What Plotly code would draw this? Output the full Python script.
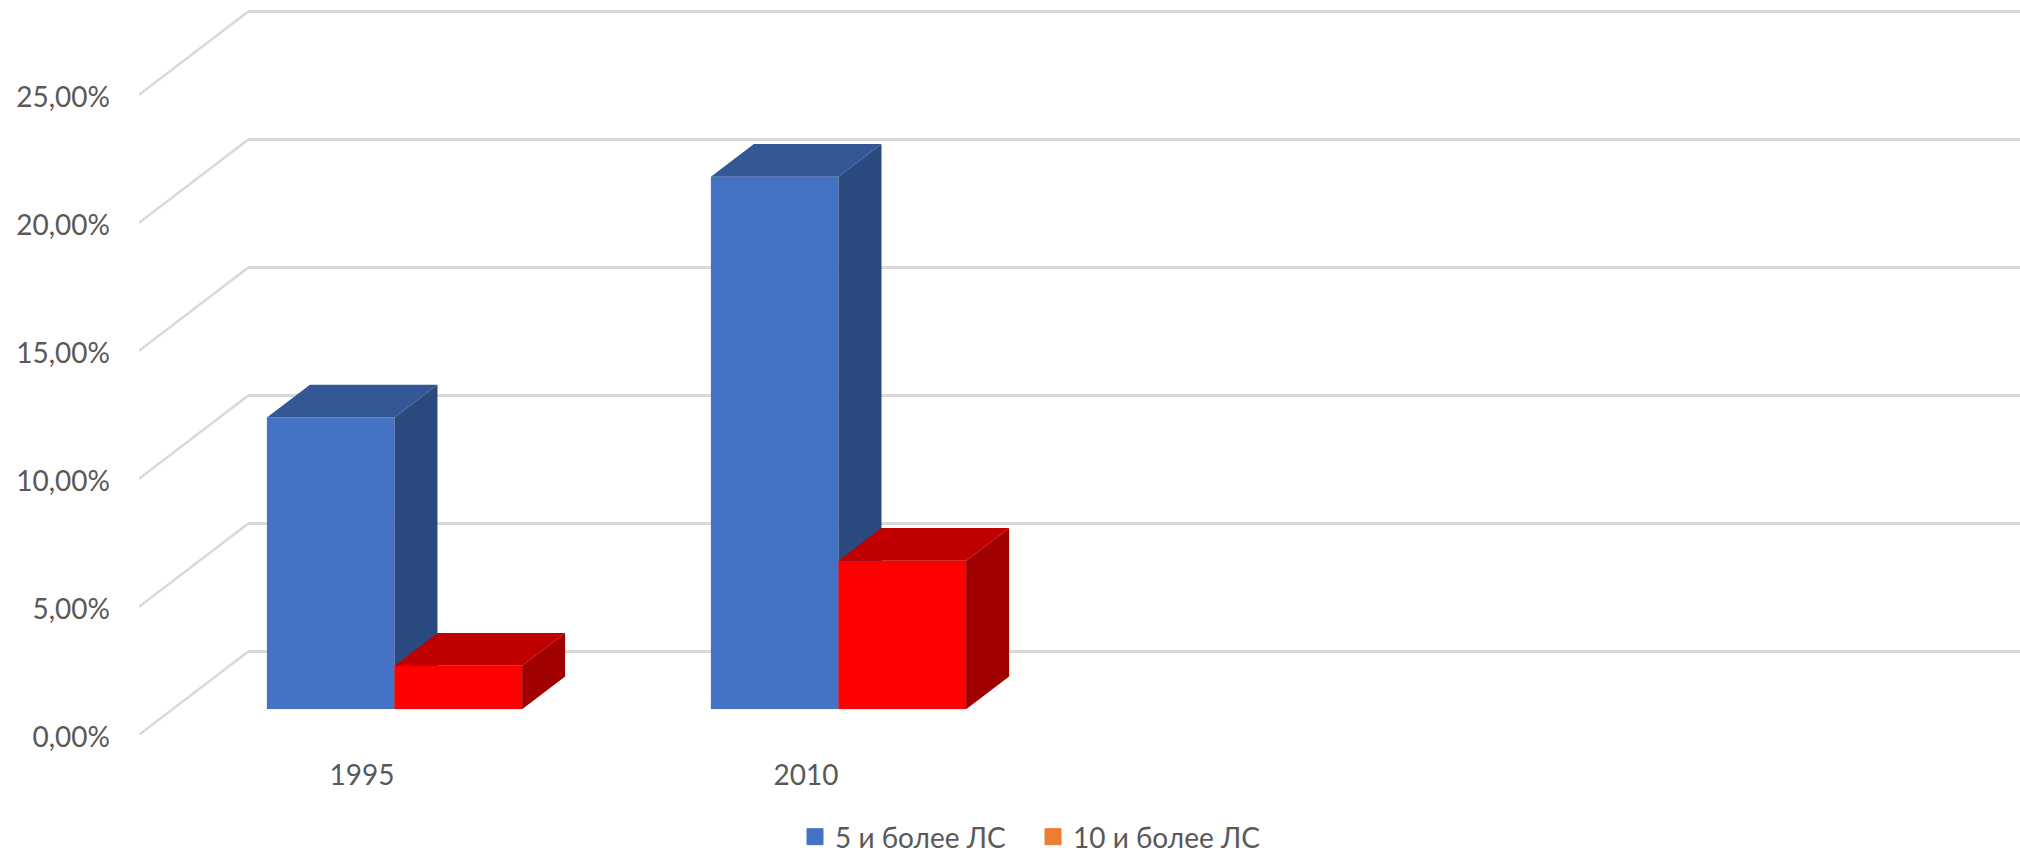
import plotly.graph_objects as go

# ---- data ----
CATEGORIES = ["1995", "2010", " ", "  "]
POSITIONS = [0, 1, 2, 3]
SERIES_5 = [0.114, 0.208, None, None]
SERIES_10 = [0.017, 0.058, None, None]
NAME_5 = "5 и более ЛС"
NAME_10 = "10 и более ЛС"
Y_TICKS = [0, 0.05, 0.10, 0.15, 0.20, 0.25]

# ---- layout constants (page pixels) ----
W, H = 2020, 856
CAT_PX = 444.0          # width of one category
VAL_PX = 2560.0         # pixels for 100 %
FRONT_LEFT, FRONT_ZERO = 139.0, 734.7      # front edge of the floor
WALL_LEFT, WALL_ZERO = 248.0, 651.7        # back edge of the floor
BAR_LEFT, BAR_ZERO = 172.5, 709.3          # plane of the bars' front faces
BAR_DX, BAR_DY = 43.0 / CAT_PX, 32.7 / VAL_PX   # bar depth in axis units
BAR_W = 127.6 / CAT_PX

FONT = "Lato"
TEXT = "#595959"
GRID = "#d9d9d9"


def xdom(px):
    return [px / W, 1]


def ydom(px):
    return [(H - px) / H, 1]


def box_faces(values, offset):
    """Top and side polygons of each bar, derived from its value."""
    top_x, top_y, side_x, side_y = [], [], [], []
    for p, v in zip(POSITIONS, values):
        if v is None:
            continue
        x0, x1 = p + offset, p + offset + BAR_W
        top_x += [x0, x0 + BAR_DX, x1 + BAR_DX, x1, x0, None]
        top_y += [v, v + BAR_DY, v + BAR_DY, v, v, None]
        side_x += [x1, x1 + BAR_DX, x1 + BAR_DX, x1, x1, None]
        side_y += [0, BAR_DY, v + BAR_DY, v, 0, None]
    return top_x, top_y, side_x, side_y


def poly(x, y, color, xa, ya):
    return go.Scatter(x=x, y=y, xaxis=xa, yaxis=ya, mode="lines", fill="toself",
                      fillcolor=color, line=dict(width=0), showlegend=False,
                      hoverinfo="skip", cliponaxis=False)


def present(values):
    xs = [p for p, v in zip(POSITIONS, values) if v is not None]
    ys = [v for v in values if v is not None]
    return xs, ys


fig = go.Figure()

# wall subplot: native gridlines + legend keys
fig.add_trace(go.Scatter(x=[None], y=[None], xaxis="x", yaxis="y", mode="markers", name=NAME_5,
                         marker=dict(symbol="square", size=16, color="#4472C4",
                                     line=dict(width=1, color="#4472C4"))))
fig.add_trace(go.Scatter(x=[None], y=[None], xaxis="x", yaxis="y", mode="markers", name=NAME_10,
                         marker=dict(symbol="square", size=16, color="#ED7D31",
                                     line=dict(width=1, color="#ED7D31"))))

# front subplot: floor/side edges leading from the axis to the wall
wall_dx = (WALL_LEFT - FRONT_LEFT) / CAT_PX
wall_dy = (FRONT_ZERO - WALL_ZERO) / VAL_PX
x_left = -0.5
slant_x, slant_y = [], []
for t in Y_TICKS:
    slant_x += [x_left, x_left + wall_dx, None]
    slant_y += [t, t + wall_dy, None]
fig.add_trace(go.Scatter(x=slant_x, y=slant_y, xaxis="x2", yaxis="y2", mode="lines",
                         line=dict(color=GRID, width=2.5), showlegend=False,
                         hoverinfo="skip", cliponaxis=False))

# blue bars
bx, by = present(SERIES_5)
fig.add_trace(go.Bar(x=bx, y=by, xaxis="x3", yaxis="y3", width=BAR_W, offset=-BAR_W,
                     marker=dict(color="#4472C4", line=dict(width=0)), showlegend=False,
                     name=NAME_5))
tx, ty, sx, sy = box_faces(SERIES_5, -BAR_W)
fig.add_trace(poly(tx, ty, "#345895", "x3", "y3"))
fig.add_trace(poly(sx, sy, "#2A4A7F", "x3", "y3"))

# red bars
rx, ry = present(SERIES_10)
fig.add_trace(go.Bar(x=rx, y=ry, xaxis="x4", yaxis="y4", width=BAR_W, offset=0,
                     marker=dict(color="#FF0000", line=dict(width=0)), showlegend=False,
                     name=NAME_10))
tx, ty, sx, sy = box_faces(SERIES_10, 0)
fig.add_trace(poly(tx, ty, "#C00000", "x4", "y4"))
fig.add_trace(poly(sx, sy, "#A00000", "x4", "y4"))

tickfont = dict(family=FONT, size=28, color=TEXT)
hidden = dict(showgrid=False, zeroline=False, showticklabels=False, ticks="", showline=False)

# wall axes reach a little below 0 so the 0 gridline is not dropped at the edge
wall_bottom = WALL_ZERO + 20

fig.update_layout(
    width=W, height=H, margin=dict(l=0, r=0, t=0, b=0, autoexpand=False),
    paper_bgcolor="white", plot_bgcolor="rgba(0,0,0,0)",
    separators=", ", barmode="overlay", showlegend=True,
    legend=dict(orientation="h", x=795 / W, xanchor="left", y=-6 / H, yanchor="bottom",
                font=dict(family=FONT, size=28, color=TEXT),
                entrywidth=193, entrywidthmode="pixels", bgcolor="rgba(0,0,0,0)",
                itemclick=False, itemdoubleclick=False),
    xaxis=dict(domain=xdom(WALL_LEFT), range=[0, 1], **hidden),
    yaxis=dict(domain=[(H - wall_bottom) / H, 1],
               range=[(WALL_ZERO - wall_bottom) / VAL_PX, WALL_ZERO / VAL_PX],
               tickvals=Y_TICKS, showgrid=True, gridcolor=GRID, gridwidth=2.5,
               zeroline=False, showticklabels=False, ticks=""),
    xaxis2=dict(domain=xdom(FRONT_LEFT), anchor="y2",
                range=[x_left, x_left + (W - FRONT_LEFT) / CAT_PX],
                tickvals=POSITIONS, ticktext=CATEGORIES, tickfont=tickfont,
                showgrid=False, zeroline=False, ticks="", ticklabelstandoff=21,
                ticklabelshift=1),
    yaxis2=dict(domain=ydom(FRONT_ZERO), anchor="x2",
                range=[0, FRONT_ZERO / VAL_PX],
                tickvals=Y_TICKS, tickformat=".2%", tickfont=tickfont,
                showgrid=False, zeroline=False, ticks="", ticklabelstandoff=28,
                ticklabelshift=2),
    xaxis3=dict(domain=xdom(BAR_LEFT), anchor="y3",
                range=[x_left, x_left + (W - BAR_LEFT) / CAT_PX], **hidden),
    yaxis3=dict(domain=ydom(BAR_ZERO), anchor="x3",
                range=[0, BAR_ZERO / VAL_PX], **hidden),
    xaxis4=dict(overlaying="x3", anchor="y4",
                range=[x_left, x_left + (W - BAR_LEFT) / CAT_PX], **hidden),
    yaxis4=dict(overlaying="y3", anchor="x4",
                range=[0, BAR_ZERO / VAL_PX], **hidden),
)

fig.write_html("out.html", config=dict(displayModeBar=False),
               post_script="document.body.style.margin='0';")
